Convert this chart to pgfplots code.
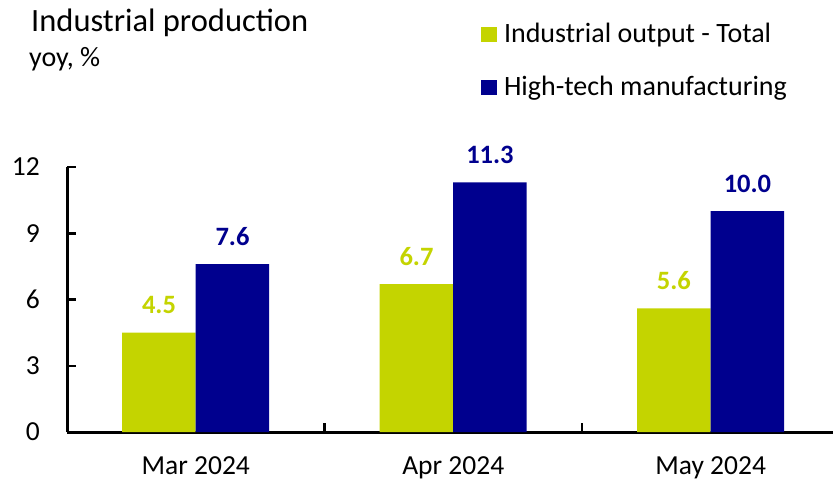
\documentclass[border=0pt]{standalone}
\usepackage{pgfplots}
\pgfplotsset{compat=1.18}
\usepackage{fontspec}
\setmainfont{Carlito}
\definecolor{cgreen}{RGB}{196,212,0}
\definecolor{cblue}{RGB}{0,0,142}
\newcommand{\fs}{\fontsize{27.5pt}{33pt}\selectfont}
\newcommand{\fl}{\fontsize{28pt}{33pt}\selectfont}
\newcommand{\fd}{\fontsize{26.5pt}{32pt}\selectfont}
\begin{document}
\begin{tikzpicture}[x=1pt,y=1pt]
\useasboundingbox (0,0) rectangle (833,480);
\node[anchor=base west, inner sep=0pt] at (31,448) {\fontsize{32.5pt}{39pt}\selectfont Industrial production};
\node[anchor=base west, inner sep=0pt] at (29,413) {\fl yoy, \%};
\begin{axis}[
  at={(67pt,48pt)}, anchor=south west,
  scale only axis, width=766pt, height=265pt,
  ymin=0, ymax=12, xmin=-0.5, xmax=2.475,
  axis x line=bottom, axis y line=left,
  axis line style={line width=3pt, -},
  ybar=0pt, bar width=73.5pt,
  ytick={0,3,6,9,12},
  xtick={0,1,2}, xticklabels={Mar 2024, Apr 2024, May 2024},
  minor xtick={0.5,1.5},
  tick align=inside, major tick length=9pt, minor tick length=9pt,
  major x tick style={draw=none},
  every tick/.style={line width=2.5pt, black},
  /pgf/number format/assume math mode=true,
  ticklabel style={font=\fs},
  yticklabel style={inner sep=0pt, anchor=east, xshift=-27pt},
  xticklabel style={inner sep=0pt, anchor=base, yshift=-42.5pt},
  nodes near coords={\pgfmathprintnumber[fixed,fixed zerofill,precision=1]{\pgfplotspointmeta}},
  every node near coord/.append style={font=\fd\bfseries, anchor=base, yshift=19pt, inner sep=0pt},
  legend image code/.code={\fill[#1] (0pt,0pt) rectangle (16pt,15pt);},
  legend style={at={(0.5405,1.5396)}, anchor=north west, draw=none, fill=none,
    inner sep=0pt, outer sep=0pt, column sep=7pt, row sep=29pt, font=\fl,
    cells={anchor=base west},
    nodes={inner sep=0pt, text height=18pt, text depth=6pt}},
  clip=false,
]
\addplot[fill=cgreen, draw=none, every node near coord/.append style={text=cgreen}]
  coordinates {(0,4.5) (1,6.7) (2,5.6)};
\addplot[fill=cblue, draw=none, every node near coord/.append style={text=cblue}]
  coordinates {(0,7.6) (1,11.3) (2,10.0)};
\legend{Industrial output - Total, High-tech manufacturing}
\end{axis}
\end{tikzpicture}
\end{document}
